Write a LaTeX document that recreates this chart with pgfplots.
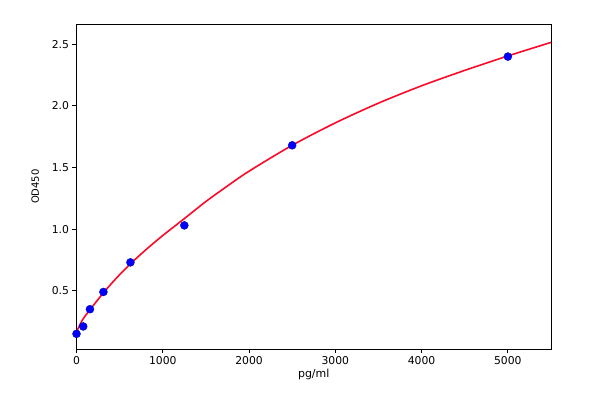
\documentclass[border=0pt]{standalone}
\usepackage{fontspec}
\setmainfont{DejaVu Sans}
\usepackage{pgfplots}
\pgfplotsset{compat=1.18}
\begin{document}
\begin{tikzpicture}[x=1bp,y=1bp]
\path (-76.5bp,-59bp) rectangle (523.5bp,349bp);
\begin{axis}[
  at={(0,0)}, anchor=south west,
  scale only axis, width=474.5bp, height=324.7bp,
  xmin=0, xmax=5500, ymin=0.027, ymax=2.662,
  xtick={0,1000,2000,3000,4000,5000},
  ytick={0.5,1.0,1.5,2.0,2.5},
  yticklabel style={/pgf/number format/.cd,fixed,fixed zerofill,precision=1},
  /pgf/number format/1000 sep={},
  /pgf/number format/assume math mode=true,
  tick align=outside, tick pos=left,
  major tick length=4bp,
  every tick/.style={black, line width=0.8bp},
  axis line style={line width=0.8bp},
  ticklabel style={font=\fontsize{10.8bp}{12bp}\selectfont},
  xlabel={pg/ml}, ylabel={OD450},
  xlabel style={font=\fontsize{11bp}{13bp}\selectfont, yshift=2bp},
  ylabel style={font=\fontsize{10bp}{11bp}\selectfont, yshift=6bp},
  clip=false,
]
\addplot[only marks, mark=*, mark size=4bp, mark options={fill=blue, draw=blue!70!black, line width=0.4bp}] coordinates {
(0,0.15) (78,0.21) (156,0.35) (312,0.49) (625,0.73) (1250,1.03) (2500,1.68) (5000,2.40)
};
\addplot[color={rgb,255:red,250;green,10;blue,40}, line width=1.6bp, smooth, tension=0.5] coordinates {
(0,0.165) (40,0.225) (80,0.275) (156,0.345) (312,0.483) (470,0.608) (625,0.718) (800,0.830) (1000,0.948)
(1250,1.085) (1500,1.224) (1750,1.350) (2000,1.470) (2500,1.680) (3000,1.862) (3500,2.022)
(4000,2.163) (4500,2.288) (5000,2.405) (5500,2.515)
};
\end{axis}
\end{tikzpicture}
\end{document}
